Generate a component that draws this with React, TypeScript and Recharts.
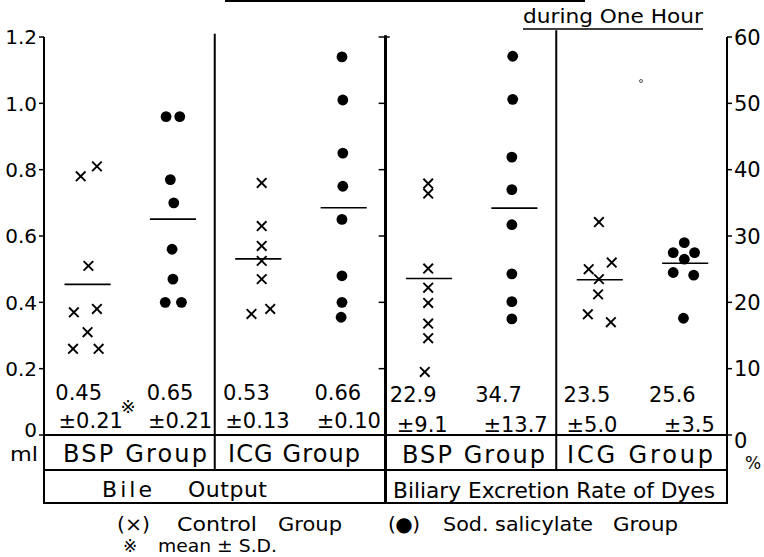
import React from 'react';
import { ScatterChart, Scatter, XAxis, YAxis, ReferenceLine } from 'recharts';

// [jitter within column, value]
const bileBspControl = [[-0.07, 0.78], [0.12, 0.81], [0.02, 0.51], [-0.15, 0.37], [0.12, 0.38], [0.01, 0.31], [-0.16, 0.26], [0.14, 0.26]];
const bileBspSalicylate = [[-0.07, 0.96], [0.09, 0.96], [-0.02, 0.77], [0.02, 0.7], [0, 0.56], [0.01, 0.47], [-0.08, 0.4], [0.11, 0.4]];
const bileIcgControl = [[0.05, 0.76], [0.05, 0.63], [0.05, 0.57], [0.05, 0.525], [0.05, 0.47], [-0.07, 0.365], [0.15, 0.38]];
const bileIcgSalicylate = [[-0.01, 1.14], [0, 1.01], [0, 0.85], [0, 0.75], [-0.01, 0.65], [-0.01, 0.48], [-0.01, 0.4], [-0.02, 0.355]];
const excrBspControl = [[0, 37.9], [0, 36.4], [0, 25.1], [0, 22.2], [0, 19.9], [0, 16.8], [0, 14.6], [-0.04, 9.5]];
const excrBspSalicylate = [[-0.01, 57.1], [-0.01, 50.6], [-0.02, 41.9], [-0.02, 37.0], [-0.02, 31.7], [-0.02, 24.3], [-0.02, 20.1], [-0.02, 17.5]];
const excrIcgControl = [[0, 32.1], [-0.12, 25.0], [0.15, 26.0], [0, 23.5], [-0.01, 21.2], [-0.13, 18.2], [0.14, 17.0]];
const excrIcgSalicylate = [[0, 29.0], [-0.13, 27.5], [0.12, 27.5], [0, 26.5], [-0.13, 24.5], [0.11, 24.1], [-0.01, 17.6]];

// mean bars as drawn
const bileMeanLines = [0.454, 0.651, 0.531, 0.685];
const excrMeanLines = [23.6, 34.2, 23.4, 25.9];

const bileMeanText = ['0.45', '0.65', '0.53', '0.66'];
const bileSdText = ['±0.21', '±0.21', '±0.13', '±0.10'];
const excrMeanText = ['22.9', '34.7', '23.5', '25.6'];
const excrSdText = ['±9.1', '±13.7', '±5.0', '±3.5'];

const mlTicks = [0, 0.2, 0.4, 0.6, 0.8, 1.0, 1.2];
const pctTicks = [0, 10, 20, 30, 40, 50, 60];

const groupLabels = ['BSP Group', 'ICG Group', 'BSP Group', 'ICG Group'];
const panelLabels = ['Bile', 'Output', 'Biliary Excretion Rate of Dyes'];

const W = 764;
const H = 557;
const PL = 44;
const PR = 727;
const PT = 37;
const PB = 435;
const UNIT = (PR - PL) / 8;
const px = (u: number) => PL + u * UNIT;
const FONT = '"DejaVu Sans", sans-serif';

const toPoints = (pts: number[][], col: number) => pts.map(([dx, v]) => ({ x: col + 0.5 + dx, y: v }));

const series = [
  { data: toPoints(bileBspControl, 0), axis: 'ml', mark: 'x' },
  { data: toPoints(bileBspSalicylate, 1), axis: 'ml', mark: 'o' },
  { data: toPoints(bileIcgControl, 2), axis: 'ml', mark: 'x' },
  { data: toPoints(bileIcgSalicylate, 3), axis: 'ml', mark: 'o' },
  { data: toPoints(excrBspControl, 4), axis: 'pct', mark: 'x' },
  { data: toPoints(excrBspSalicylate, 5), axis: 'pct', mark: 'o' },
  { data: toPoints(excrIcgControl, 6), axis: 'pct', mark: 'x' },
  { data: toPoints(excrIcgSalicylate, 7), axis: 'pct', mark: 'o' },
];

const Cross = (p: any) => (
  <g stroke="#000" strokeWidth={1.9}>
    <line x1={p.cx - 4.8} y1={p.cy - 4.8} x2={p.cx + 4.8} y2={p.cy + 4.8} />
    <line x1={p.cx - 4.8} y1={p.cy + 4.8} x2={p.cx + 4.8} y2={p.cy - 4.8} />
  </g>
);
const Dot = (p: any) => <circle cx={p.cx} cy={p.cy} r={5.4} fill="#000" />;

const LeftTick = (p: any) => {
  const v = p.payload.value;
  return (
    <text x={p.x} y={p.y + (v === 0 ? -5 : 0)} dy="0.36em" textAnchor="end" fontSize={20} fontFamily={FONT} fill="#000">
      {v === 0 ? '0' : v.toFixed(1)}
    </text>
  );
};
const RightTick = (p: any) => {
  const v = p.payload.value;
  return (
    <text x={p.x} y={p.y + (v === 0 ? 5 : 0)} dy="0.36em" textAnchor="start" fontSize={21} fontFamily={FONT} fill="#000">
      {v}
    </text>
  );
};

const row1Off = [-8, -2, -11, -5, -15, -15, -12, -12];
const row2Off = [4, 8, 0, 6, -6, 2, -7, 5];

export default function App() {
  const meanText = [...bileMeanText, ...excrMeanText];
  const sdText = [...bileSdText, ...excrSdText];
  const T = { fontFamily: FONT, fill: '#000' };
  return (
    <div style={{ position: 'absolute', left: 0, top: 0, width: W, height: H, background: '#fff' }}>
      <ScatterChart width={W} height={H} margin={{ top: PT, right: 0, bottom: H - PB, left: 0 }}>
        <XAxis type="number" dataKey="x" domain={[0, 8]} hide />
        <YAxis yAxisId="ml" type="number" dataKey="y" domain={[0, 1.2]} ticks={mlTicks} width={PL}
          axisLine={{ stroke: '#000', strokeWidth: 2 }} tickLine={{ stroke: '#000', strokeWidth: 1.5 }} tickSize={5} tick={<LeftTick />} />
        <YAxis yAxisId="pct" orientation="right" type="number" dataKey="y" domain={[0, 60]} ticks={pctTicks} width={W - PR}
          axisLine={{ stroke: '#000', strokeWidth: 2 }} tickLine={{ stroke: '#000', strokeWidth: 1.5 }} tickSize={5} tick={<RightTick />} />
        <ReferenceLine yAxisId="ml" y={0} stroke="#000" strokeWidth={2} />
        <ReferenceLine yAxisId="ml" segment={[{ x: 2, y: 0 }, { x: 2, y: 1.21 }]} stroke="#000" strokeWidth={2} ifOverflow="visible" />
        <ReferenceLine yAxisId="ml" segment={[{ x: 4, y: 0 }, { x: 4, y: 1.205 }]} stroke="#000" strokeWidth={3} ifOverflow="visible" />
        <ReferenceLine yAxisId="ml" segment={[{ x: 6, y: 0 }, { x: 6, y: 1.22 }]} stroke="#000" strokeWidth={2} ifOverflow="visible" />
        {pctTicks.filter((t) => t > 0).map((t) => (
          <ReferenceLine key={'mt' + t} yAxisId="pct" segment={[{ x: 3.92, y: t }, { x: t === 60 ? 4.05 : 4, y: t }]} stroke="#000" strokeWidth={1.5} ifOverflow="visible" />
        ))}
        {bileMeanLines.map((m, i) => (
          <ReferenceLine key={'bm' + i} yAxisId="ml" segment={[{ x: i + 0.24, y: m }, { x: i + 0.78, y: m }]} stroke="#000" strokeWidth={1.6} />
        ))}
        {excrMeanLines.map((m, i) => (
          <ReferenceLine key={'em' + i} yAxisId="pct" segment={[{ x: i + 4.24, y: m }, { x: i + 4.78, y: m }]} stroke="#000" strokeWidth={1.6} />
        ))}
        {series.map((s, i) => (
          <Scatter key={i} yAxisId={s.axis} data={s.data} isAnimationActive={false}
            shape={s.mark === 'x' ? (p: any) => <Cross {...p} /> : (p: any) => <Dot {...p} />} />
        ))}
      </ScatterChart>
      <svg width={W} height={H} style={{ position: 'absolute', left: 0, top: 0, pointerEvents: 'none' }}>
        {/* mean ± SD labels */}
        {meanText.map((t, i) => (
          <text key={'mt' + i} x={px(i + 0.5) + row1Off[i]} y={i < 4 ? 400 : 402} textAnchor="middle" fontSize={21} {...T}>{t}</text>
        ))}
        {sdText.map((t, i) => (
          <text key={'sd' + i} x={px(i + 0.5) + row2Off[i]} y={i < 4 ? 428 : 432} textAnchor="middle" fontSize={21} {...T}>{t}</text>
        ))}
        <text x={128} y={413} textAnchor="middle" fontSize={18} {...T}>※</text>

        {/* table */}
        <g stroke="#000" strokeWidth={2}>
          <line x1={PL} y1={470} x2={PR} y2={470} />
          <line x1={PL} y1={503} x2={PR} y2={503} />
          <line x1={PL} y1={PB} x2={PL} y2={504} />
          <line x1={PR} y1={PB} x2={PR} y2={504} />
          <line x1={px(2)} y1={PB} x2={px(2)} y2={470} />
          <line x1={px(6)} y1={PB} x2={px(6)} y2={470} />
          <line x1={px(4)} y1={PB} x2={px(4)} y2={504} strokeWidth={3} />
        </g>
        <text x={63} y={462} fontSize={24} textLength={144} lengthAdjust="spacing" {...T}>{groupLabels[0]}</text>
        <text x={228} y={462} fontSize={24} textLength={132} lengthAdjust="spacing" {...T}>{groupLabels[1]}</text>
        <text x={402} y={463} fontSize={24} textLength={143} lengthAdjust="spacing" {...T}>{groupLabels[2]}</text>
        <text x={567} y={463} fontSize={24} textLength={146} lengthAdjust="spacing" {...T}>{groupLabels[3]}</text>
        <text x={102} y={497} fontSize={22} textLength={50} lengthAdjust="spacing" {...T}>{panelLabels[0]}</text>
        <text x={188} y={497} fontSize={22} textLength={79} lengthAdjust="spacing" {...T}>{panelLabels[1]}</text>
        <text x={393} y={498} fontSize={22} textLength={322} lengthAdjust="spacingAndGlyphs" {...T}>{panelLabels[2]}</text>
        <text x={10} y={461} fontSize={20} textLength={28} lengthAdjust="spacingAndGlyphs" {...T}>ml</text>
        <text x={745} y={469} fontSize={17} {...T}>%</text>

        {/* legend */}
        <text x={117} y={531} fontSize={20} textLength={33} lengthAdjust="spacingAndGlyphs" {...T}>(×)</text>
        <text x={177} y={531} fontSize={20} textLength={80} lengthAdjust="spacingAndGlyphs" {...T}>Control</text>
        <text x={278} y={531} fontSize={20} textLength={64} lengthAdjust="spacingAndGlyphs" {...T}>Group</text>
        <text x={388} y={531} fontSize={20} textLength={32} lengthAdjust="spacing" {...T}>(●)</text>
        <text x={443} y={531} fontSize={20} textLength={150} lengthAdjust="spacingAndGlyphs" {...T}>Sod. salicylate</text>
        <text x={613} y={531} fontSize={20} textLength={65} lengthAdjust="spacingAndGlyphs" {...T}>Group</text>
        <text x={123} y={552} fontSize={17} {...T}>※</text>
        <text x={158} y={552} fontSize={17} textLength={119} lengthAdjust="spacingAndGlyphs" {...T}>mean ± S.D.</text>

        {/* cropped title remnants */}
        <line x1={225} y1={1} x2={585} y2={1} stroke="#000" strokeWidth={2} />
        <text x={523} y={23} fontSize={20} textLength={180} lengthAdjust="spacingAndGlyphs" {...T}>during One Hour</text>
        <line x1={523} y1={29} x2={703} y2={29} stroke="#000" strokeWidth={1.5} />
        <circle cx={641} cy={81} r={1.5} fill="none" stroke="#555" strokeWidth={1} />
      </svg>
    </div>
  );
}
